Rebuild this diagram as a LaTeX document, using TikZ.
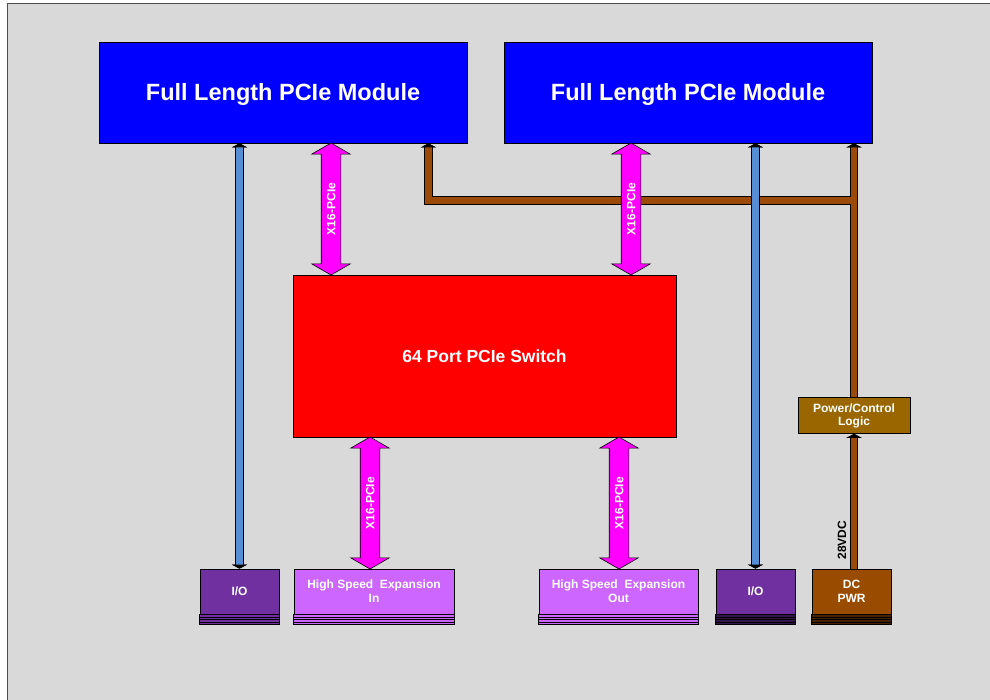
\documentclass[tikz,border=0pt]{standalone}
\usepackage{fontspec}
\setmainfont{Liberation Sans}
\usetikzlibrary{calc,shapes.arrows,arrows.meta}

\definecolor{bggray}{HTML}{D9D9D9}
\definecolor{modblue}{HTML}{0000FF}
\definecolor{swred}{HTML}{FF0000}
\definecolor{pciemag}{HTML}{FF00FF}
\definecolor{hspink}{HTML}{CC66FF}
\definecolor{iopurple}{HTML}{7030A0}
\definecolor{dcbrown}{HTML}{994C00}
\definecolor{pclbrown}{HTML}{996600}
\definecolor{wirebrown}{HTML}{9C4A0A}
\definecolor{wireblue}{HTML}{558ED5}

\tikzset{
  block/.style={draw=black, line width=0.8pt, text=white, align=center, inner sep=0pt},
  module/.style={block, fill=modblue, minimum width=368pt, minimum height=101pt,
    text height=17.2pt, text depth=1.3pt, font=\bfseries\fontsize{23.5}{28}\selectfont},
  card/.style={block, fill=#1, minimum height=45pt, font=\bfseries\fontsize{12}{14}\selectfont},
  pcie/.style={double arrow, draw=black, line width=0.6pt, fill=pciemag, rotate=90,
    text=white, font=\bfseries\fontsize{12}{12}\selectfont,
    text height=8.6pt, text depth=0pt, inner xsep=0pt, inner ysep=5.2pt,
    double arrow head extend=9.5pt, double arrow tip angle=120, minimum height=#1},
  wire/.style={line width=6.5pt, draw=#1, preaction={draw=black, line width=8.5pt}},
  >={Triangle[width=15pt, length=4pt, color=black, fill=black]}
}

\begin{document}
\begin{tikzpicture}[x=1pt,y=-1pt]
\useasboundingbox (0,0) rectangle (990,700);
\fill[white] (0,0) rectangle (990,700);
\draw[fill=bggray, draw=gray!60!black, line width=1.2pt] (7.5,3.5) rectangle (995,705);

% modules and switch
\node[module] (mod1) at (283,92.5) {Full Length PCIe Module};
\node[module] (mod2) at (688,92.5) {Full Length PCIe Module};
\node[block, fill=swred, minimum width=383pt, minimum height=162pt,
  font=\bfseries\fontsize{17.5}{21}\selectfont] (sw) at (484.5,356) {64 Port PCIe Switch};
\node[block, fill=pclbrown, minimum width=112pt, minimum height=36pt,
  font=\bfseries\fontsize{12}{13}\selectfont] (pcl) at (854,415.5) {Power/Control\\Logic};

% connector cards along the bottom
\node[card=iopurple, minimum width=79pt] (io1) at (239.5,591.5) {I/O};
\node[card=hspink, minimum width=160pt] (hsin) at (374,591.5) {High Speed\ \ Expansion\\In};
\node[card=hspink, minimum width=159pt] (hsout) at (618.5,591.5) {High Speed\ \ Expansion\\Out};
\node[card=iopurple, minimum width=79pt] (io2) at (755.5,591.5) {I/O};
\node[card=dcbrown, minimum width=79pt] (dc) at (851.5,591.5) {DC\\PWR};

\foreach \n/\c in {io1/iopurple, hsin/hspink, hsout/hspink, io2/iopurple!45!black, dc/dcbrown!45!black} {
  \filldraw[fill=\c, draw=black, line width=0.8pt] (\n.south west) rectangle ($(\n.south east)+(0,10)$);
  \foreach \k in {2.5,5,7.5}
    \draw[line width=0.8pt] ($(\n.south west)+(0,\k)$) -- ($(\n.south east)+(0,\k)$);
}

% power distribution (stub first, so the tips land on the main run)
\coordinate (tap) at ($(pcl.north |- mod2.south)+(0,57)$);
\coordinate (m1pwr) at ($(mod1.south east)+(-39,0)$);
\draw[wire=wirebrown, <->] (tap) -- (pcl.north)
  (m1pwr) |- (tap) -- (mod2.south -| pcl.north);
\draw[wire=wirebrown, <-] (pcl.south) -- (pcl.south |- dc.north)
  node[pos=.79, rotate=90, anchor=south, inner sep=4.5pt, text=black,
    font=\bfseries\fontsize{12}{12}\selectfont] (v28) {28VDC};

% I/O wiring
\draw[wire=wireblue, <->] (io1.north |- mod1.south) -- (io1.north);
\draw[wire=wireblue, <->] (io2.north |- mod2.south) -- (io2.north);

% x16 links
\node[pcie=132pt] (x1) at (331,209) {X16-PCIe};
\node[pcie=132pt] (x2) at (631,209) {X16-PCIe};
\node[pcie=132pt] (x3) at (370,503) {X16-PCIe};
\node[pcie=132pt] (x4) at (619,503) {X16-PCIe};
\end{tikzpicture}
\end{document}
